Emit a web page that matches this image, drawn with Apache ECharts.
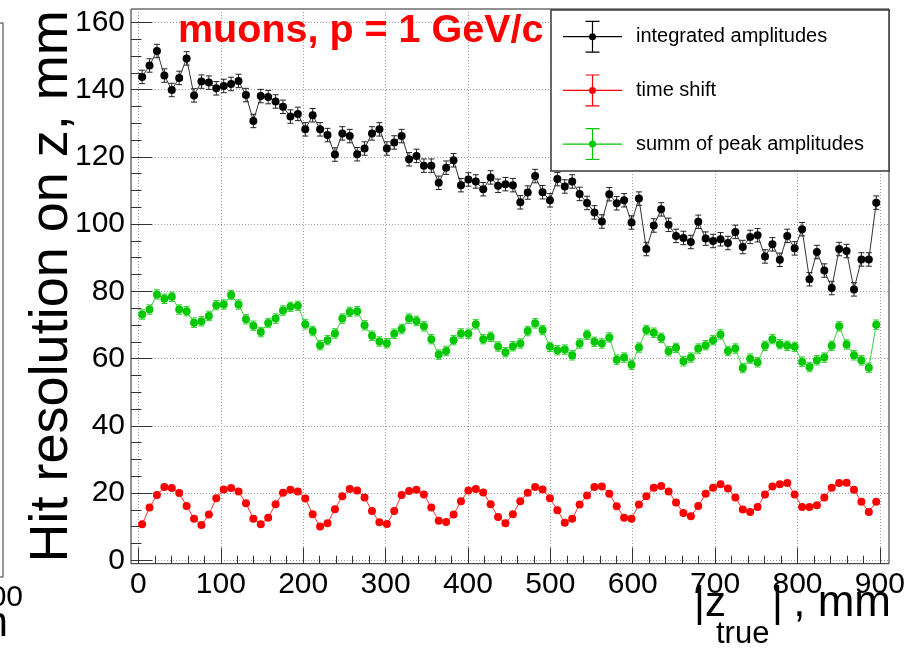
<!DOCTYPE html>
<html>
<head>
<meta charset="utf-8">
<script src="https://cdn.jsdelivr.net/npm/echarts@6/dist/echarts.min.js"></script>
<style>
  html, body { margin: 0; padding: 0; background: #fff; }
  #chart { width: 910px; height: 655px; }
</style>
</head>
<body>
<div id="chart"></div>
<script>
// |z_true| bin centres (9 mm bins from 0 to 900 mm)
const binCenters = [
  4.5, 13.5, 22.5, 31.5, 40.5, 49.5, 58.5, 67.5, 76.5, 85.5,
  94.5, 103.5, 112.5, 121.5, 130.5, 139.5, 148.5, 157.5, 166.5, 175.5,
  184.5, 193.5, 202.5, 211.5, 220.5, 229.5, 238.5, 247.5, 256.5, 265.5,
  274.5, 283.5, 292.5, 301.5, 310.5, 319.5, 328.5, 337.5, 346.5, 355.5,
  364.5, 373.5, 382.5, 391.5, 400.5, 409.5, 418.5, 427.5, 436.5, 445.5,
  454.5, 463.5, 472.5, 481.5, 490.5, 499.5, 508.5, 517.5, 526.5, 535.5,
  544.5, 553.5, 562.5, 571.5, 580.5, 589.5, 598.5, 607.5, 616.5, 625.5,
  634.5, 643.5, 652.5, 661.5, 670.5, 679.5, 688.5, 697.5, 706.5, 715.5,
  724.5, 733.5, 742.5, 751.5, 760.5, 769.5, 778.5, 787.5, 796.5, 805.5,
  814.5, 823.5, 832.5, 841.5, 850.5, 859.5, 868.5, 877.5, 886.5, 895.5
];

// Hit resolution on z (mm) per method
const integratedAmplitudes = [
  143.8, 147.2, 151.5, 144.2, 139.9, 143.5, 149.3, 138.3, 142.4, 142.1,
  140.4, 141.1, 141.7, 142.6, 138.4, 130.7, 138.1, 137.8, 136.5, 134.9,
  132.0, 132.8, 128.2, 132.4, 128.2, 126.5, 120.7, 127.0, 126.2, 120.8,
  122.5, 127.0, 128.2, 122.5, 124.3, 126.2, 119.3, 120.3, 117.4, 117.4,
  112.3, 116.8, 119.0, 111.6, 113.3, 112.7, 110.4, 113.9, 111.4, 111.9,
  111.6, 106.5, 109.4, 114.3, 109.5, 107.1, 113.4, 111.2, 112.7, 109.0,
  106.3, 103.5, 100.8, 108.9, 106.2, 107.1, 100.5, 107.6, 92.6, 99.6,
  104.4, 99.8, 96.5, 95.9, 94.7, 100.7, 95.7, 95.0, 95.5, 94.4,
  97.7, 93.2, 96.2, 96.7, 90.4, 94.0, 89.4, 96.5, 92.8, 98.5,
  83.6, 91.7, 86.2, 81.0, 92.6, 92.0, 80.6, 89.5, 89.5, 106.4
];
const timeShift = [
  10.7, 15.7, 19.4, 21.8, 21.5, 20.0, 16.2, 12.4, 10.5, 13.6,
  18.5, 21.1, 21.5, 20.5, 17.0, 12.4, 10.7, 12.7, 16.7, 20.1,
  21.0, 20.5, 18.4, 13.7, 10.1, 11.0, 15.2, 19.1, 21.2, 20.8,
  18.7, 14.7, 11.3, 10.8, 14.7, 19.4, 20.6, 21.0, 19.6, 15.7,
  11.8, 11.4, 13.6, 17.6, 20.8, 21.2, 20.2, 16.7, 12.9, 11.0,
  13.7, 17.6, 20.1, 21.8, 21.1, 18.5, 14.9, 11.2, 12.4, 16.6,
  19.3, 21.8, 22.0, 19.8, 16.1, 12.7, 12.4, 16.6, 19.1, 21.6,
  22.1, 20.5, 17.2, 14.1, 13.1, 16.2, 19.8, 21.6, 22.6, 21.4,
  18.7, 15.1, 14.4, 15.9, 19.6, 22.0, 22.6, 23.0, 19.6, 15.9,
  15.9, 16.4, 18.7, 21.6, 23.0, 23.1, 21.0, 17.4, 14.4, 17.4
];
const summOfPeakAmplitudes = [
  73.1, 74.6, 79.1, 77.8, 78.4, 74.6, 74.1, 70.7, 71.1, 72.7,
  75.9, 76.1, 78.9, 76.1, 71.7, 69.8, 67.9, 70.6, 71.9, 74.3,
  75.4, 75.7, 70.2, 68.2, 64.0, 65.5, 67.5, 71.9, 73.9, 74.1,
  69.9, 66.8, 65.1, 64.6, 67.4, 68.8, 71.9, 71.2, 69.6, 65.8,
  61.2, 62.3, 65.5, 67.5, 67.4, 70.2, 65.8, 66.5, 63.6, 61.9,
  63.7, 64.5, 68.2, 70.5, 68.5, 63.5, 62.5, 62.7, 61.0, 64.5,
  67.1, 65.0, 64.5, 66.3, 59.7, 60.3, 58.2, 63.3, 68.5, 67.7,
  66.2, 62.2, 63.2, 59.2, 60.3, 63.0, 64.0, 65.5, 67.2, 62.3,
  63.0, 57.2, 60.0, 58.9, 63.8, 65.8, 64.3, 63.8, 63.5, 59.1,
  57.5, 59.5, 60.3, 63.8, 69.6, 64.2, 61.0, 59.5, 57.3, 70.1
];

// Typical statistical error of each curve (mm)
const seriesErrors = { integrated: 2.0, time: 0.5, summ: 1.4 };

const seriesNames = ['integrated amplitudes', 'time shift', 'summ of peak amplitudes'];
const titleText = 'muons, p = 1 GeV/c';
const yTitle = 'Hit resolution on z, mm';

const FONT = '"Liberation Sans", Arial, Helvetica, sans-serif';
const COL_BLACK = '#000000';
const COL_RED = '#ff0000';
const COL_GREEN = '#00c800';

// Legend glyph: horizontal bin-width bar, vertical error bar with caps, and a dot
const CROSS_ICON = 'path://M0 15.4H59V16.6H0Z M28.9 0H30.1V32H28.9Z M22.5 0H36.5V1.2H22.5Z M22.5 30.8H36.5V32H22.5Z M26 16A3.5 3.5 0 1 1 33 16A3.5 3.5 0 1 1 26 16Z';

function pairs(xs, ys) { return xs.map((x, i) => [x, ys[i]]); }

function pointSeries(name, ys, color, lineColor) {
  return {
    type: 'line', name, xAxisIndex: 0, yAxisIndex: 0, z: 4,
    data: pairs(binCenters, ys),
    symbol: 'circle', symbolSize: 8,
    itemStyle: { color },
    lineStyle: { color: lineColor, width: 1 },
    emphasis: { disabled: true },
    animation: false
  };
}

function errorSeries(name, ys, err, color) {
  return {
    type: 'custom', name, xAxisIndex: 0, yAxisIndex: 0, z: 3,
    itemStyle: { color },
    data: binCenters.map((x, i) => [x, ys[i] - err, ys[i] + err]),
    renderItem(params, api) {
      const x = api.value(0);
      const lo = api.coord([x, api.value(1)]);
      const hi = api.coord([x, api.value(2)]);
      const cap = 3;
      const st = { stroke: color, lineWidth: 1 };
      return {
        type: 'group',
        children: [
          { type: 'line', shape: { x1: lo[0], y1: lo[1], x2: hi[0], y2: hi[1] }, style: st },
          { type: 'line', shape: { x1: lo[0] - cap, y1: lo[1], x2: lo[0] + cap, y2: lo[1] }, style: st },
          { type: 'line', shape: { x1: hi[0] - cap, y1: hi[1], x2: hi[0] + cap, y2: hi[1] }, style: st }
        ]
      };
    },
    animation: false
  };
}

const gridLine = { show: true, lineStyle: { color: '#9a9a9a', width: 1, type: [1, 2] } };

const chart = echarts.init(document.getElementById('chart'), null, { renderer: 'canvas' });

chart.setOption({
  backgroundColor: '#ffffff',
  animation: false,
  textStyle: { fontFamily: FONT },
  title: {
    text: titleText, left: 178, top: 11, padding: 0,
    textStyle: { color: COL_RED, fontSize: 39.5, fontWeight: 'bold', fontFamily: FONT }
  },
  legend: {
    orient: 'vertical', left: 563, top: 20.7, padding: 0, itemGap: 21.7,
    itemWidth: 59, itemHeight: 32, selectedMode: false, z: 6,
    textStyle: { fontSize: 20, color: '#000', fontFamily: FONT, padding: [0, 0, 0, 9] },
    data: [
      { name: seriesNames[0], icon: CROSS_ICON, itemStyle: { color: COL_BLACK } },
      { name: seriesNames[1], icon: CROSS_ICON, itemStyle: { color: COL_RED } },
      { name: seriesNames[2], icon: CROSS_ICON, itemStyle: { color: COL_GREEN } }
    ]
  },
  grid: [
    // frame holding the data
    { left: 131, right: 21, top: 9, bottom: 91.3, show: true, borderColor: '#222', borderWidth: 1, backgroundColor: 'transparent' },
    // horizontal grid, y ticks and labels (0..160)
    { left: 131, right: 21, top: 22.4, bottom: 94.66, show: false },
    // vertical grid, x ticks and labels (0..900)
    { left: 138.4, right: 30.1, top: 9, bottom: 91.3, show: false }
  ],
  xAxis: [
    { gridIndex: 0, type: 'value', min: -9, max: 911, show: true,
      axisLine: { show: false }, axisTick: { show: false }, axisLabel: { show: false }, splitLine: { show: false } },
    { gridIndex: 1, type: 'value', min: 0, max: 1, show: false },
    { gridIndex: 2, type: 'value', min: 0, max: 900, interval: 100,
      axisLine: { show: false },
      axisTick: { show: true, inside: true, length: 16, lineStyle: { color: '#333', width: 1 } },
      minorTick: { show: true, splitNumber: 5, length: 8, lineStyle: { color: '#333', width: 1 } },
      axisLabel: { show: true, fontSize: 30, color: '#000', margin: 6, fontFamily: FONT },
      splitLine: gridLine }
  ],
  yAxis: [
    { gridIndex: 0, type: 'value', min: -1, max: 164, show: true,
      axisLine: { show: false }, axisTick: { show: false }, axisLabel: { show: false }, splitLine: { show: false },
      name: yTitle, nameLocation: 'middle', nameRotate: 90, nameGap: 52,
      nameTextStyle: { fontSize: 54, color: '#000', fontFamily: FONT } },
    { gridIndex: 1, type: 'value', min: 0, max: 160, interval: 20,
      axisLine: { show: false },
      axisTick: { show: true, inside: true, length: 21, lineStyle: { color: '#333', width: 1 } },
      minorTick: { show: true, splitNumber: 4, length: 10.5, lineStyle: { color: '#333', width: 1 } },
      axisLabel: { show: true, fontSize: 30, color: '#000', margin: 6, fontFamily: FONT },
      splitLine: gridLine },
    { gridIndex: 2, type: 'value', min: 0, max: 1, show: false }
  ],
  series: [
    pointSeries(seriesNames[0], integratedAmplitudes, COL_BLACK, '#333'),
    pointSeries(seriesNames[1], timeShift, COL_RED, '#ff3030'),
    pointSeries(seriesNames[2], summOfPeakAmplitudes, COL_GREEN, '#40d040'),
    errorSeries(seriesNames[0], integratedAmplitudes, seriesErrors.integrated, '#222'),
    errorSeries(seriesNames[1], timeShift, seriesErrors.time, COL_RED),
    errorSeries(seriesNames[2], summOfPeakAmplitudes, seriesErrors.summ, '#30d030')
  ],
  graphic: [
    // legend frame
    { type: 'rect', z: 3, shape: { x: 551, y: 10, width: 338, height: 161 },
      style: { fill: '#ffffff', stroke: '#3a3a3a', lineWidth: 1.5 } },
    // x-axis title |z_true|, mm
    { type: 'text', z: 5, x: 694, y: 604, style: { text: '|z', font: '42px ' + FONT, fill: '#000', verticalAlign: 'middle' } },
    { type: 'text', z: 5, x: 716, y: 634, style: { text: 'true', font: '31px ' + FONT, fill: '#000', verticalAlign: 'middle' } },
    { type: 'text', z: 5, x: 772, y: 604, style: { text: '|', font: '42px ' + FONT, fill: '#000', verticalAlign: 'middle' } },
    { type: 'text', z: 5, x: 891, y: 604, style: { text: ', mm', font: '44px ' + FONT, fill: '#000', align: 'right', verticalAlign: 'middle' } },
    // edge of the neighbouring pad
    { type: 'line', z: 5, shape: { x1: 3, y1: 23, x2: 3, y2: 577 }, style: { stroke: '#333', lineWidth: 1 } },
    { type: 'line', z: 5, shape: { x1: 0, y1: 23, x2: 3, y2: 23 }, style: { stroke: '#333', lineWidth: 1 } },
    { type: 'line', z: 5, shape: { x1: 0, y1: 577, x2: 3, y2: 577 }, style: { stroke: '#333', lineWidth: 1 } },
    { type: 'text', z: 5, x: 23, y: 598, style: { text: '900', font: '30px ' + FONT, fill: '#000', align: 'right', verticalAlign: 'middle' } },
    { type: 'text', z: 5, x: 8, y: 624, style: { text: 'mm', font: '42px ' + FONT, fill: '#000', align: 'right', verticalAlign: 'middle' } }
  ]
});
</script>
</body>
</html>
